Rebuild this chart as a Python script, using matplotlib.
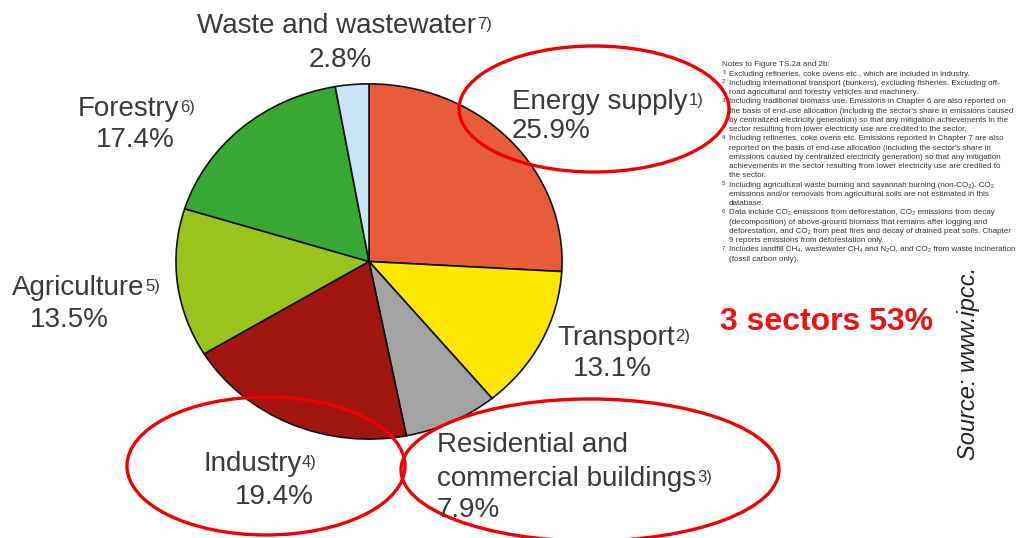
import matplotlib
matplotlib.use("Agg")
import matplotlib.pyplot as plt
from matplotlib.patches import Ellipse

plt.rcParams['font.family'] = ['Liberation Sans', 'DejaVu Sans']

# ---- data ----
sectors = ["Energy supply", "Transport", "Residential and\ncommercial buildings",
           "Industry", "Agriculture", "Forestry", "Waste and wastewater"]
footnotes = ["1)", "2)", "3)", "4)", "5)", "6)", "7)"]
shares = [25.9, 13.1, 7.9, 19.4, 13.5, 17.4, 2.8]
colors = ["#E95C3A", "#FFE600", "#A3A3A3", "#A1160F", "#9AC31D", "#37A834", "#C9E5F5"]
highlight_text = "3 sectors 53%"
source_text = "Source: www.ipcc."
notes_title = "Notes to Figure TS.2a and 2b:"
notes = [
    ("1)", "Excluding refineries, coke ovens etc., which are included in industry."),
    ("2)", "Including international transport (bunkers), excluding fisheries. Excluding off-"),
    ("", "road agricultural and forestry vehicles and machinery."),
    ("3)", "Including traditional biomass use. Emissions in Chapter 6 are also reported on"),
    ("", "the basis of end-use allocation (including the sector's share in emissions caused"),
    ("", "by centralized electricity generation) so that any mitigation achievements in the"),
    ("", "sector resulting from lower electricity use are credited to the sector."),
    ("4)", "Including refineries, coke ovens etc. Emissions reported in Chapter 7 are also"),
    ("", "reported on the basis of end-use allocation (including the sector's share in"),
    ("", "emissions caused by centralized electricity generation) so that any mitigation"),
    ("", "achievements in the sector resulting from lower electricity use are credited to"),
    ("", "the sector."),
    ("5)", "Including agricultural waste burning and savannah burning (non-CO\u2082). CO\u2082"),
    ("", "emissions and/or removals from agricultural soils are not estimated in this"),
    ("", "database."),
    ("6)", "Data include CO\u2082 emissions from deforestation, CO\u2082 emissions from decay"),
    ("", "(decomposition) of above-ground biomass that remains after logging and"),
    ("", "deforestation, and CO\u2082 from peat fires and decay of drained peat soils. Chapter"),
    ("", "9 reports emissions from deforestation only."),
    ("7)", "Includes landfill CH\u2084, wastewater CH\u2084 and N\u2082O, and CO\u2082 from waste incineration"),
    ("", "(fossil carbon only)."),
]

W, H = 1027, 538
fig = plt.figure(figsize=(W / 100, H / 100), dpi=100)
fig.patch.set_facecolor("white")

# pie axes (slightly elliptical pie as in the reference)
L, R, T, B = 175, 563, 83, 440
ax = fig.add_axes([L / W, 1 - B / H, (R - L) / W, (B - T) / H])
ax.pie(shares, colors=colors, startangle=90, counterclock=False,
       wedgeprops=dict(edgecolor="#111111", linewidth=1.2))
ax.set_aspect("auto")
ax.set_xlim(-1.005, 1.005)
ax.set_ylim(-1.005, 1.005)
ax.axis("off")

# overlay axes in pixel coordinates
ov = fig.add_axes([0, 0, 1, 1], zorder=5)
ov.set_xlim(0, W)
ov.set_ylim(H, 0)
ov.axis("off")
ov.patch.set_alpha(0)

tc = "#3a3a3a"
fs = 20
sfs = 12

def label(x, y, name, sup, pct, px, py, ha="left", gap=34):
    lines = name.split("\n")
    t = None
    for i, ln in enumerate(lines):
        t = ov.text(x, y + i * gap, ln, fontsize=fs, color=tc, ha="left", va="baseline")
    ov.annotate(sup, xy=(1.0, 1.0), xycoords=t, xytext=(0.5, -3), textcoords="offset points",
                fontsize=sfs, color=tc, ha="left", va="top")
    ov.text(px, py, pct, fontsize=fs, color=tc, ha=ha, va="baseline")

pct = [f"{v:.1f}%" for v in shares]
# Energy
label(512, 109, sectors[0], footnotes[0], pct[0], 512, 138)
# Transport
label(557, 345, sectors[1], footnotes[1], pct[1], 573, 376)
# Residential
label(437, 452, sectors[2], footnotes[2], pct[2], 437, 517)
# Industry
label(203, 471, sectors[3], footnotes[3], pct[3], 235, 504)
# Agriculture
label(12, 295, sectors[4], footnotes[4], pct[4], 30, 327)
# Forestry
label(78, 116, sectors[5], footnotes[5], pct[5], 96, 147)
# Waste
label(197, 33, sectors[6], footnotes[6], pct[6], 340, 67, ha="center")

# red highlight ellipses
ell_color = "#F00000"
for (cx, cy, w, h) in [(594, 109, 270, 126), (266, 466, 278, 138), (590, 470, 378, 142)]:
    ov.add_patch(Ellipse((cx, cy), w, h, fill=False, edgecolor=ell_color, linewidth=2.4))

ov.text(720, 330, highlight_text, fontsize=23, fontweight="bold", color="#EE1111",
        ha="left", va="baseline")

ov.text(968, 363, source_text, fontsize=17, fontstyle="italic", color="#222222",
        rotation=90, ha="center", va="center")

# notes block
nfs = 5.75
nc = "#333333"
ov.text(722, 65, notes_title, fontsize=nfs, color=nc, ha="left", va="center")
for i, (m, s) in enumerate(notes):
    y = 65 + (i + 1) * 9.24
    if m:
        ov.text(722, y - 1.5, m[0], fontsize=4.5, color=nc, ha="left", va="center")
    ov.text(729, y, s, fontsize=nfs, color=nc, ha="left", va="center")

fig.savefig("out.png", dpi=100, facecolor="white")
